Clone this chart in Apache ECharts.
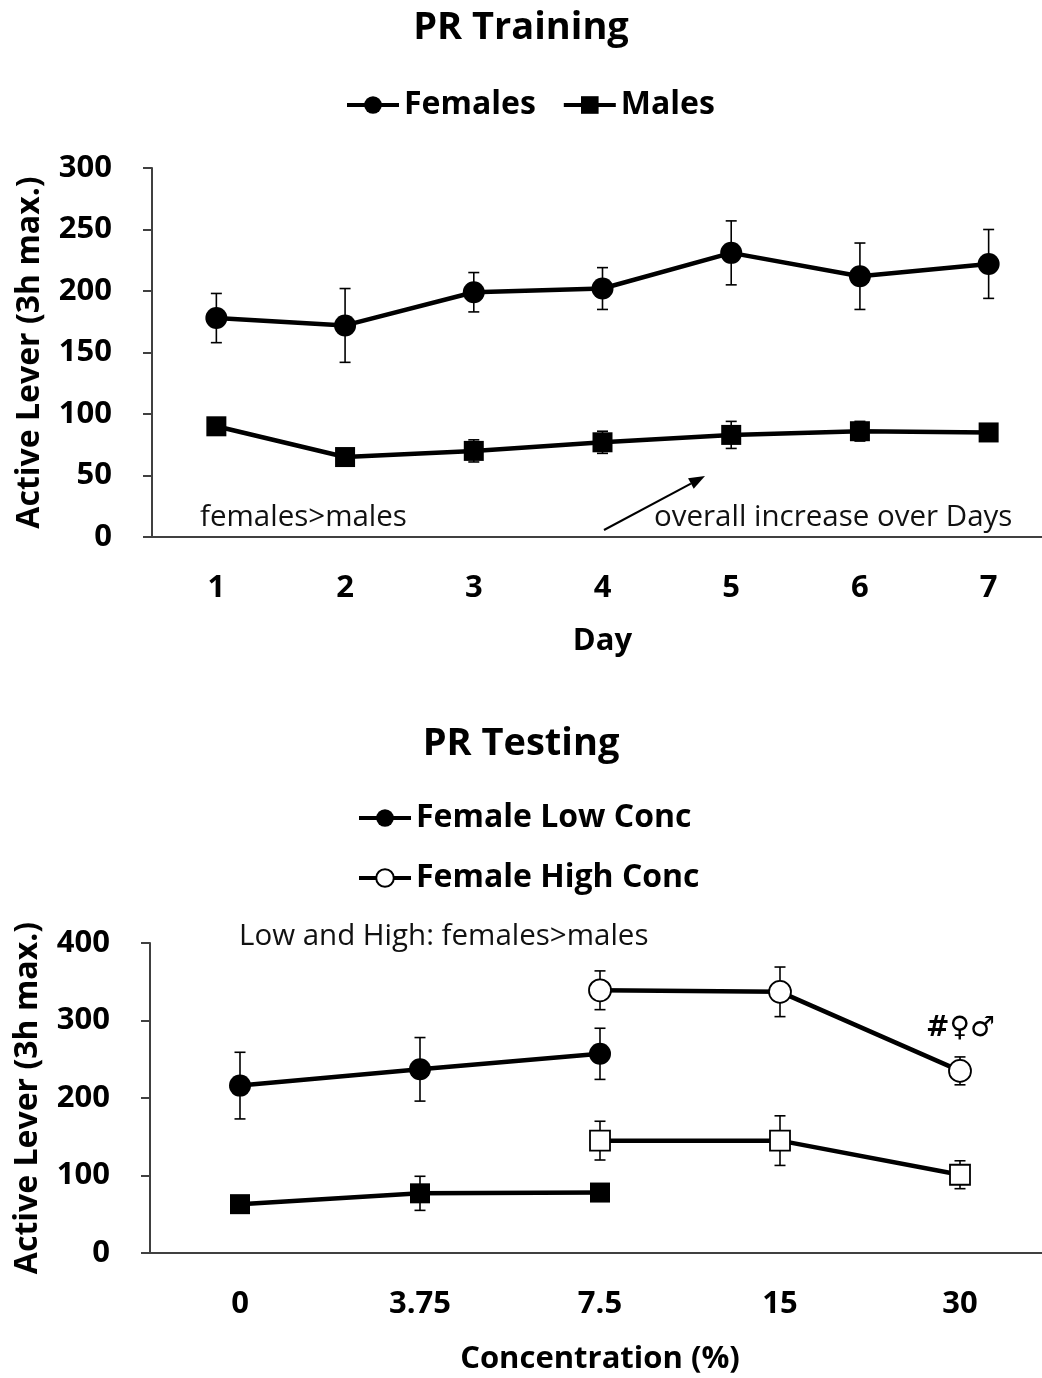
<!DOCTYPE html>
<html>
<head>
<meta charset="utf-8">
<script src="https://cdn.jsdelivr.net/npm/echarts@6/dist/echarts.min.js"></script>
<style>html,body{margin:0;padding:0;background:#fff}#c{width:1042px;height:1378px}</style>
</head>
<body>
<div id="c"></div>
<script>
// ---- Data: PR Training ----
const days = ['1', '2', '3', '4', '5', '6', '7'];
const femalesMean = [178, 172, 199, 202, 231, 212, 222];
const femalesErr  = [20, 30, 16, 17, 26, 27, 28];
const malesMean   = [90, 65, 70, 77, 83, 86, 85];
const malesErr    = [4, 6, 9, 9, 11, 8, 7];
const trainTicks  = [0, 50, 100, 150, 200, 250, 300];

// ---- Data: PR Testing ----
const conc = ['0', '3.75', '7.5', '15', '30'];
const femLowMean  = [216, 237, 257, null, null];
const femLowErr   = [43, 41, 33, null, null];
const femHighMean = [null, null, 339, 337, 235];
const femHighErr  = [null, null, 25, 32, 18];
const maleLowMean = [63, 77, 78, null, null];
const maleLowErr  = [5, 22, 5, null, null];
const maleHighMean= [null, null, 145, 145, 101];
const maleHighErr = [null, null, 25, 32, 18];
const testTicks   = [0, 100, 200, 300, 400];

const FONT = '"Open Sans", "DejaVu Sans", sans-serif';
const AX = '#404040';

function pairs(mean) {
  const out = [];
  mean.forEach((v, i) => { if (v != null) out.push([i, v]); });
  return out;
}
function errPairs(mean, err) {
  const out = [];
  mean.forEach((v, i) => { if (v != null) out.push([i, v - err[i], v + err[i]]); });
  return out;
}
function errRender(params, api) {
  const x = api.value(0), lo = api.value(1), hi = api.value(2);
  const p1 = api.coord([x, hi]), p2 = api.coord([x, lo]);
  const w = 5.5;
  const st = { stroke: '#000', lineWidth: 1.6 };
  return { type: 'group', children: [
    { type: 'line', shape: { x1: p1[0], y1: p1[1], x2: p2[0], y2: p2[1] }, style: st },
    { type: 'line', shape: { x1: p1[0] - w, y1: p1[1], x2: p1[0] + w, y2: p1[1] }, style: st },
    { type: 'line', shape: { x1: p2[0] - w, y1: p2[1], x2: p2[0] + w, y2: p2[1] }, style: st }
  ]};
}
function errSeries(idx, mean, err) {
  return { type: 'custom', xAxisIndex: idx, yAxisIndex: idx, renderItem: errRender,
    data: errPairs(mean, err), z: 1, silent: true, clip: false, encode: { x: 0, y: [1, 2] } };
}
function lineSeries(idx, name, mean, symbol, size, filled) {
  return { type: 'line', name: name, xAxisIndex: idx, yAxisIndex: idx, data: pairs(mean),
    symbol: symbol, symbolSize: size, showSymbol: true, z: 3,
    lineStyle: { color: '#000', width: 4.5 },
    itemStyle: { color: filled ? '#000' : '#fff', borderColor: '#000', borderWidth: filled ? 0 : 1.8, opacity: 1 },
    emphasis: { disabled: true } };
}
function catAxis(idx, data, name, gap) {
  return { type: 'category', gridIndex: idx, data: data, boundaryGap: true,
    name: name, nameLocation: 'middle', nameGap: gap,
    nameTextStyle: { fontFamily: FONT, fontWeight: 'bold', fontSize: 31, color: '#000' },
    axisLine: { lineStyle: { color: AX, width: 2 } },
    axisTick: { alignWithLabel: true, length: 9, lineStyle: { color: AX, width: 2 } },
    axisLabel: { margin: 36, fontFamily: FONT, fontWeight: 'bold', fontSize: 31, color: '#000' },
    splitLine: { show: false } };
}
function valAxis(idx, ticks) {
  return { type: 'value', gridIndex: idx, min: ticks[0], max: ticks[ticks.length - 1],
    interval: ticks[1] - ticks[0],
    name: 'Active Lever (3h max.)', nameLocation: 'middle', nameGap: 106,
    nameTextStyle: { fontFamily: FONT, fontWeight: 'bold', fontSize: 32, color: '#000' },
    axisLine: { show: true, lineStyle: { color: AX, width: 2 } },
    axisTick: { show: true, inside: false, length: 9, lineStyle: { color: AX, width: 2 } },
    axisLabel: { margin: 40, fontFamily: FONT, fontWeight: 'bold', fontSize: 31, color: '#000' },
    splitLine: { show: false } };
}
function arrow(x1, y1, x2, y2) {
  const a = Math.atan2(y2 - y1, x2 - x1), L = 16, W = 6;
  const bx = x2 - L * Math.cos(a), by = y2 - L * Math.sin(a);
  const nx = -Math.sin(a) * W, ny = Math.cos(a) * W;
  return [
    { type: 'line', shape: { x1: x1, y1: y1, x2: bx, y2: by }, style: { stroke: '#000', lineWidth: 2 } },
    { type: 'polygon', shape: { points: [[x2, y2], [bx + nx, by + ny], [bx - nx, by - ny]] }, style: { fill: '#000' } }
  ];
}
const annStyle = { fontFamily: FONT, fontSize: 29.5, fill: '#111', textVerticalAlign: 'middle' };

const chart = echarts.init(document.getElementById('c'), null, { renderer: 'canvas' });
chart.setOption({
  backgroundColor: '#fff',
  animation: false,
  title: [
    { text: 'PR Training', left: 'center', top: 4,
      textStyle: { fontFamily: FONT, fontWeight: 'bold', fontSize: 38, color: '#000' } },
    { text: 'PR Testing', left: 'center', top: 720,
      textStyle: { fontFamily: FONT, fontWeight: 'bold', fontSize: 38, color: '#000' } }
  ],
  legend: [
    { data: ['Females', 'Males'], left: 340, top: 84, itemWidth: 52, itemHeight: 22, itemGap: 26,
      lineStyle: { width: 4, color: '#000' },
      textStyle: { fontFamily: FONT, fontWeight: 'bold', fontSize: 32, color: '#000' } },
    { data: ['Female Low Conc', 'Female High Conc'], orient: 'vertical', left: 352, top: 796,
      itemWidth: 52, itemHeight: 22, itemGap: 26,
      lineStyle: { width: 4, color: '#000' },
      textStyle: { fontFamily: FONT, fontWeight: 'bold', fontSize: 32, color: '#000', lineHeight: 34 } }
  ],
  grid: [
    { left: 152, top: 168, width: 901, height: 369, containLabel: false, outerBoundsMode: 'none' },
    { left: 150, top: 943, width: 900, height: 310, containLabel: false, outerBoundsMode: 'none' }
  ],
  xAxis: [catAxis(0, days, 'Day', 89), catAxis(1, conc, 'Concentration (%)', 91)],
  yAxis: [valAxis(0, trainTicks), valAxis(1, testTicks)],
  series: [
    errSeries(0, femalesMean, femalesErr),
    errSeries(0, malesMean, malesErr),
    lineSeries(0, 'Females', femalesMean, 'circle', 22, true),
    lineSeries(0, 'Males', malesMean, 'rect', 20, true),
    errSeries(1, femLowMean, femLowErr),
    errSeries(1, femHighMean, femHighErr),
    errSeries(1, maleLowMean, maleLowErr),
    errSeries(1, maleHighMean, maleHighErr),
    lineSeries(1, 'Female Low Conc', femLowMean, 'circle', 22, true),
    lineSeries(1, 'Female High Conc', femHighMean, 'circle', 22, false),
    lineSeries(1, 'Male Low Conc', maleLowMean, 'rect', 20, true),
    lineSeries(1, 'Male High Conc', maleHighMean, 'rect', 20, false)
  ],
  graphic: [
    { type: 'text', x: 200, y: 518, style: Object.assign({ text: 'females>males' }, annStyle) },
    { type: 'text', x: 654, y: 518, style: Object.assign({ text: 'overall increase over Days' }, annStyle) },
    { type: 'text', x: 239, y: 937, style: Object.assign({ text: 'Low and High: females>males' }, annStyle) },
    { type: 'text', x: 926, y: 1029, style: { text: '#♀♂', fontFamily: '"DejaVu Sans", sans-serif', fontWeight: 'bold', fontSize: 28, fill: '#000', textVerticalAlign: 'middle' } }
  ].concat(arrow(604, 530, 705, 476))
});
</script>
</body>
</html>
